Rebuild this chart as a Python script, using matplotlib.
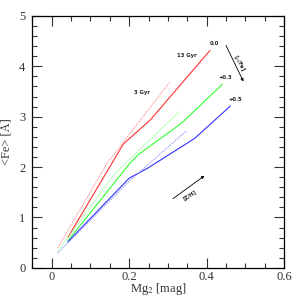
import matplotlib
matplotlib.use("Agg")
import matplotlib.pyplot as plt
from matplotlib.ticker import MultipleLocator

# 13 Gyr models (solid) for [alpha/Fe] = 0.0, +0.3, +0.5
mg2_red = [0.042, 0.185, 0.255, 0.408]
fe_red = [0.61, 2.46, 2.94, 4.31]
mg2_green = [0.042, 0.200, 0.222, 0.335, 0.440]
fe_green = [0.54, 2.06, 2.24, 2.87, 3.64]
mg2_blue = [0.042, 0.200, 0.248, 0.369, 0.461]
fe_blue = [0.52, 1.78, 1.98, 2.57, 3.21]

# 3 Gyr models (dotted)
mg2_red3 = [0.015, 0.143, 0.304]
fe_red3 = [0.39, 2.08, 3.68]
mg2_green3 = [0.015, 0.160, 0.330]
fe_green3 = [0.32, 1.85, 3.11]
mg2_blue3 = [0.015, 0.200, 0.348]
fe_blue3 = [0.29, 1.72, 2.72]

serif = ["Liberation Serif", "DejaVu Serif"]
plt.rcParams["font.family"] = serif
plt.rcParams["mathtext.fontset"] = "stix"

fig = plt.figure(figsize=(3, 3), dpi=100)
ax = fig.add_axes([0.108, 0.107, 0.839, 0.840])

ax.plot(mg2_red, fe_red, color="#ff3030", lw=0.8)
ax.plot(mg2_green, fe_green, color="#30ff30", lw=0.8)
ax.plot(mg2_blue, fe_blue, color="#3030ff", lw=0.8)
ax.plot(mg2_red3, fe_red3, color="#ff9090", lw=0.7, ls=(0, (1.5, 1)))
ax.plot(mg2_green3, fe_green3, color="#90ff90", lw=0.7, ls=(0, (1.5, 1)))
ax.plot(mg2_blue3, fe_blue3, color="#9090ff", lw=0.7, ls=(0, (1.5, 1)))

small = dict(fontsize=3.8, fontweight="bold", family="DejaVu Sans", color="#222222")
ax.text(0.348, 4.21, "13 Gyr", ha="center", va="center", **small)
ax.text(0.233, 3.49, "3 Gyr", ha="center", va="center", **small)
ax.text(0.421, 4.46, "0.0", ha="center", va="center", **small)
ax.text(0.447, 3.78, "+0.3", ha="center", va="center", **small)
ax.text(0.475, 3.35, "+0.5", ha="center", va="center", **small)

ax.annotate("", xy=(0.498, 3.65), xytext=(0.447, 4.46),
            arrowprops=dict(arrowstyle="-|>", color="black", lw=0.6,
                            mutation_scale=4))
ax.text(0.485, 4.06, r"[$\alpha$/Fe]", rotation=-62, ha="center", va="center", **small)

ax.annotate("", xy=(0.400, 1.86), xytext=(0.307, 1.34),
            arrowprops=dict(arrowstyle="-|>", color="black", lw=0.6,
                            mutation_scale=4))
ax.text(0.356, 1.44, "[Z/H]", rotation=33, ha="center", va="center", **small)

ax.set_xlim(-0.05, 0.6)
ax.set_ylim(0, 5)
ax.xaxis.set_major_locator(MultipleLocator(0.2))
ax.xaxis.set_minor_locator(MultipleLocator(0.05))
ax.yaxis.set_major_locator(MultipleLocator(1))
ax.yaxis.set_minor_locator(MultipleLocator(0.2))
ax.tick_params(which="both", direction="in", top=True, right=True, width=0.8,
               labelsize=9, colors="#333333")
ax.tick_params(which="major", length=7)
ax.tick_params(which="minor", length=3.5)
ax.tick_params(axis="y", pad=5)
ax.tick_params(axis="x", pad=2)
ax.set_xticks([0, 0.2, 0.4, 0.6])
ax.set_xticklabels(["0", "0.2", "0.4", "0.6"])
for s in ax.spines.values():
    s.set_linewidth(0.9)

ax.set_xlabel(r"Mg$_2$ [mag]", fontsize=9, labelpad=-1, color="#333333")
ax.set_ylabel("<Fe> [Å]", fontsize=9, labelpad=4, color="#333333")

fig.savefig("out.png", dpi=100)
